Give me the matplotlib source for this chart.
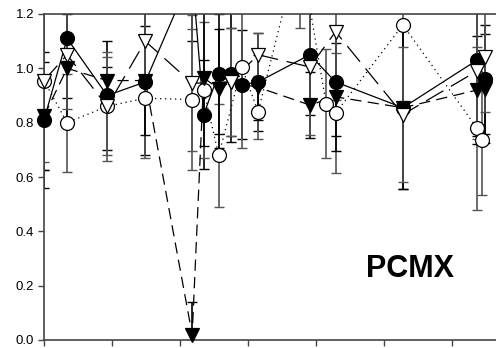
import numpy as np
from matplotlib import pyplot as plt

plt.rcParams['font.family'] = ['Liberation Sans', 'DejaVu Sans']

# Data
# filled circles, solid line
x_fc = [0, 0.34, 0.93, 1.49, 2.18, 2.35, 2.57, 2.75, 2.91, 3.15, 3.91, 4.29, 5.28, 6.37, 6.49]
y_fc = [0.81, 1.11, 0.90, 0.95, 1.35, 0.83, 0.98, 0.98, 0.94, 0.95, 1.05, 0.95, 0.855, 1.03, 0.96]
e_fc = [0.25, 0.22, 0.2, 0.27, 0.25, 0.2, 0.22, 0.25, 0.2, 0.18, 0.22, 0.2, 0.3, 0.28, 0.2]

# open circles, dotted line
x_oc = [0, 0.34, 0.93, 1.49, 2.18, 2.35, 2.57, 2.91, 3.15, 3.76, 4.15, 4.29, 5.28, 6.37, 6.44]
y_oc = [0.955, 0.80, 0.86, 0.89, 0.885, 0.92, 0.68, 1.005, 0.84, 1.45, 0.87, 0.835, 1.16, 0.78, 0.735]
e_oc = [0.33, 0.18, 0.2, 0.22, 0.26, 0.25, 0.19, 0.3, 0.1, 0.3, 0.2, 0.22, 0.3, 0.3, 0.2]

# filled triangles, dashed line
x_ft = [0, 0.34, 0.93, 1.49, 2.18, 2.35, 2.57, 2.75, 3.15, 3.91, 4.29, 5.28, 6.37, 6.49]
y_ft = [0.825, 1.00, 0.955, 0.955, 0.02, 0.965, 0.925, 0.95, 0.93, 0.865, 0.895, 0.855, 0.92, 0.925]
e_ft = [0.2, 0.2, 0.05, 0.2, 0.12, 0.25, 0.22, 0.2, 0.12, 0.12, 0.2, 0.3, 0.2, 0.2]

# open triangles, long dashes
x_ot = [0, 0.34, 0.93, 1.49, 2.18, 2.75, 3.15, 3.91, 4.29, 5.28, 6.37, 6.49]
y_ot = [0.955, 1.05, 0.86, 1.10, 0.945, 0.95, 1.05, 1.005, 1.135, 0.83, 0.99, 1.04]
e_ot = [0.3, 0.2, 0.18, 0.2, 0.25, 0.2, 0.08, 0.25, 0.25, 0.25, 0.25, 0.2]

y_ticks = [0.0, 0.2, 0.4, 0.6, 0.8, 1.0, 1.2]
x_ticks = [0, 1, 2, 3, 4, 5, 6]

fig = plt.figure(figsize=(4.96, 3.48), dpi=100)
ax = fig.add_axes([44 / 496, 8 / 348, 1 - 44 / 496, 326 / 348])

series = [
    (x_fc, y_fc, e_fc, 'o', 'black', '-', 'black'),
    (x_oc, y_oc, e_oc, 'o', 'white', (0, (1, 3)), '#555555'),
    (x_ft, y_ft, e_ft, 'v', 'black', (0, (9, 5)), 'black'),
    (x_ot, y_ot, e_ot, 'v', 'white', (0, (16, 7)), '#555555'),
]

for x, y, e, m, fc, ls, ec in series:
    ax.errorbar(x, y, yerr=e, fmt='none', ecolor=ec, elinewidth=1.2,
                capsize=3.5, capthick=1.0, zorder=2)
    ax.plot(x, y, linestyle=ls, color='black', linewidth=0.9, zorder=3)
    ax.plot(x, y, linestyle='none', marker=m, markersize=10,
            markerfacecolor=fc, markeredgecolor='black', markeredgewidth=0.9,
            zorder=4, clip_on=False)

ax.set_xlim(0, 6.65)
ax.set_ylim(0, 1.2)
ax.set_xticks(x_ticks)
ax.set_xticklabels([])
ax.set_yticks(y_ticks)
ax.set_yticklabels(['%.1f' % v for v in y_ticks])
ax.tick_params(direction='out', length=4, width=1, color='#444444',
               labelsize=9.5, pad=3)
for s in ['left', 'bottom', 'top']:
    ax.spines[s].set_color('#444444')
    ax.spines[s].set_linewidth(1.2)
ax.spines['right'].set_visible(False)

ax.text(5.38, 0.262, 'PCMX', fontsize=22, fontweight='bold',
        ha='center', va='center')

fig.savefig('out.png', dpi=100)
